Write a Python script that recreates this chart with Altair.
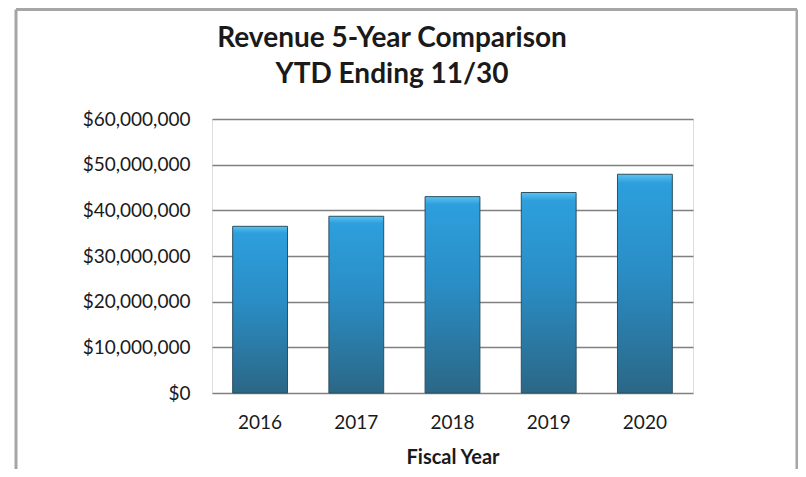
import altair as alt
import pandas as pd

years = ["2016", "2017", "2018", "2019", "2020"]
revenue = [36500000, 38700000, 43000000, 43900000, 47900000]
title_lines = ["Revenue 5-Year Comparison", "YTD Ending 11/30"]
x_title = "Fiscal Year"

df = pd.DataFrame({"year": years, "revenue": revenue})

FONT = "Lato"
TEXT_COLOR = "#1a1a1a"

bars = alt.Chart(df).mark_bar(
    color=alt.Gradient(
        gradient="linear", x1=0, y1=0, x2=0, y2=1,
        stops=[
            alt.GradientStop(color="#5cc2f2", offset=0),
            alt.GradientStop(color="#2d9fdc", offset=0.04),
            alt.GradientStop(color="#2a8dc5", offset=0.45),
            alt.GradientStop(color="#2b6786", offset=1),
        ],
    ),
    stroke="#2d4f60",
    strokeWidth=1,
).encode(
    x=alt.X("year:N", title=x_title, sort=years,
            scale=alt.Scale(paddingInner=0.43, paddingOuter=0.215),
            axis=alt.Axis(labelAngle=0, labelFontSize=19, labelFont=FONT,
                          labelColor=TEXT_COLOR, labelPadding=20, ticks=False,
                          domain=False, titleFont=FONT, titleFontSize=20,
                          titleFontWeight="bold", titleColor=TEXT_COLOR,
                          titleBaseline="alphabetic", titleY=70)),
    y=alt.Y("revenue:Q", title=None,
            scale=alt.Scale(domain=[0, 60000000], nice=False),
            axis=alt.Axis(format="$,.0f", values=[0, 10000000, 20000000, 30000000,
                                                  40000000, 50000000, 60000000],
                          labelFontSize=19, labelFont=FONT, labelColor=TEXT_COLOR,
                          labelPadding=22, ticks=False, domain=False,
                          grid=True, gridColor="#808080", gridWidth=1.5)),
)

frame_data = alt.Data(values=[{"k": 1}])
border_color = "#a6a6a6"
left_border = alt.Chart(frame_data).mark_rule(color=border_color, strokeWidth=3).encode(
    x=alt.value(-196), y=alt.value(-109.5), y2=alt.value(400))
right_border = alt.Chart(frame_data).mark_rule(color=border_color, strokeWidth=3).encode(
    x=alt.value(585), y=alt.value(-109.5), y2=alt.value(400))
top_border = alt.Chart(frame_data).mark_rule(color=border_color, strokeWidth=3).encode(
    x=alt.value(-196), x2=alt.value(585), y=alt.value(-109.5))

title1 = alt.Chart(frame_data).mark_text(
    text=title_lines[0], font=FONT, fontSize=28, fontWeight="bold",
    color=TEXT_COLOR, align="center", baseline="alphabetic",
).encode(x=alt.value(180), y=alt.value(-72))
title2 = alt.Chart(frame_data).mark_text(
    text=title_lines[1], font=FONT, fontSize=28, fontWeight="bold",
    color=TEXT_COLOR, align="center", baseline="alphabetic",
).encode(x=alt.value(180), y=alt.value(-36))

chart = alt.layer(bars, left_border, right_border, top_border, title1, title2).properties(
    width=481,
    height=274,
    autosize="none",
    padding={"left": 204, "top": 111, "right": 105, "bottom": 76},
).configure_view(stroke=None).configure(background="white")

chart.save("out.html", embed_options={"renderer": "svg", "actions": False})
